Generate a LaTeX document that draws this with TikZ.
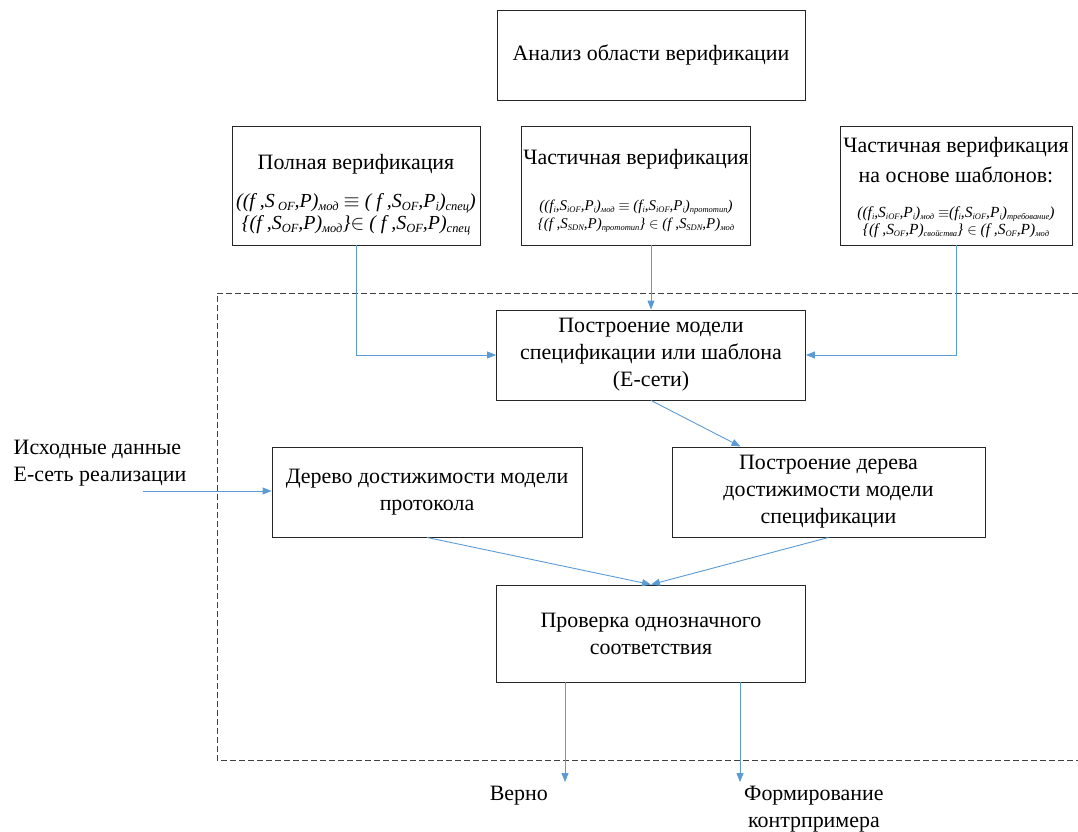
\documentclass[tikz,border=0pt]{standalone}
\usepackage{fontspec}
\setmainfont{Liberation Serif}
\usetikzlibrary{arrows.meta}
\definecolor{flow}{RGB}{91,155,213}
% formula line fonts and their lowered indices
\newcommand{\fmA}{\fontsize{20}{22}\selectfont\itshape}
\newcommand{\fmB}{\fontsize{15}{17}\selectfont\itshape}
\newcommand{\fmC}{\fontsize{15.5}{15}\selectfont\itshape}
\newcommand{\ixA}[1]{\raisebox{-0.35ex}{\fontsize{12.5}{12.5}\selectfont\itshape #1}}
\newcommand{\ixB}[1]{\raisebox{-0.3ex}{\fontsize{8.5}{8.5}\selectfont\itshape #1}}
\newcommand{\ixC}[1]{\raisebox{-0.3ex}{\fontsize{8.5}{8.5}\selectfont\itshape #1}}
\newcommand{\lbr}{\char"007B}
\newcommand{\rbr}{\char"007D{}}
\begin{document}
\begin{tikzpicture}[x=1bp,y=-1bp,
  box/.style={draw=black!85, line width=0.9bp, fill=white, align=center,
    inner sep=2bp, font=\fontsize{22}{27}\selectfont},
  arr/.style={draw=flow, line width=0.9bp, -{Triangle[length=9bp,width=7bp]}},
  frame/.style={draw=black!75, line width=0.9bp, dash pattern=on 6bp off 3bp},
  lbl/.style={align=left, inner sep=0pt, font=\fontsize{22}{27}\selectfont}]
\useasboundingbox (0,0) rectangle (1078,832);

% boundary of the modelling stage
\draw[frame] (1078,293) -- (217,293) -- (217,760) -- (1078,760);

% top level
\node[box, minimum width=308bp, minimum height=90bp] (scope) at (651,55)
  {Анализ области верификации};

% verification variants
\node[box, minimum width=248bp, minimum height=119bp] (full) at (356,185.5)
  {\mbox{}\\[6bp]
   Полная верификация\\[11bp]
   \fmA ((f ,S\ixA{ OF},P)\ixA{мод} $\equiv$ ( f ,S\ixA{OF},P\ixA{i})\ixA{спец})\\[-5bp]
   \fmA \lbr(f ,S\ixA{OF},P)\ixA{мод}\rbr $\in$ ( f ,S\ixA{OF},P)\ixA{спец}};

\node[box, minimum width=202bp, minimum height=119bp] (part) at (636,185.5)
  {\mbox{}\\[-1bp]
   Частичная верификация\\[19bp]
   \fmB ((f\ixB{i},S\ixB{iOF},P\ixB{i})\ixB{мод} $\equiv$ (f\ixB{i},S\ixB{iOF},P\ixB{i})\ixB{прототип})\\[-8bp]
   \fmB \lbr(f ,S\ixB{SDN},P)\ixB{прототип}\rbr{} $\in$ (f ,S\ixB{SDN},P)\ixB{мод}};

\node[box, minimum width=232bp, minimum height=119bp] (tmpl) at (956,185.5)
  {\mbox{}\\[-7bp]
   Частичная верификация\\[3bp]
   на основе шаблонов:\\[8bp]
   \fmC ((f\ixC{i},S\ixC{iOF},P\ixC{i})\ixC{мод} $\equiv$(f\ixC{i},S\ixC{iOF},P\ixC{i})\ixC{требование})\\[-10bp]
   \fmC \lbr(f ,S\ixC{OF},P)\ixC{свойства}\rbr{} $\in$ (f ,S\ixC{OF},P)\ixC{мод}};

% modelling stage
\node[box, minimum width=309bp, minimum height=90bp] (build) at (651,355)
  {Построение модели\\спецификации или шаблона\\(Е-сети)};

\node[box, minimum width=310bp, minimum height=90bp] (tproto) at (427,492)
  {Дерево достижимости модели\\протокола};

\node[box, minimum width=313bp, minimum height=90bp] (tspec) at (828.5,492)
  {Построение дерева\\достижимости модели\\спецификации};

\node[box, minimum width=309bp, minimum height=97bp] (check) at (651,633.5)
  {Проверка однозначного\\соответствия};

% inputs and outcomes
\node[lbl] (input) at (100,463) {Исходные данные\\Е-сеть реализации};
\coordinate (src) at (143,491);
\coordinate (okend) at (565,782);
\coordinate (ceend) at (740,782);
\node[lbl, anchor=north east] (ok) at (548,786) {Верно};
\node[lbl, anchor=north west, align=center] (ce) at (744,786)
  {Формирование\\контрпримера};

% connectors
\draw[arr] (full.south) |- (build.west);
\draw[arr] (part.south -| build.north) -- (build.north);
\draw[arr] (tmpl.south) |- (build.east);
\draw[arr] (build.south) -- ([xshift=-88bp]tspec.north);
\draw[arr] (src) -- (src -| tproto.west);
\draw[arr] (tproto.south) -- (check.north);
\draw[arr] (tspec.south) -- (check.north);
\draw[arr] (check.south -| okend) -- (okend);
\draw[arr] (check.south -| ceend) -- (ceend);
\end{tikzpicture}
\end{document}
